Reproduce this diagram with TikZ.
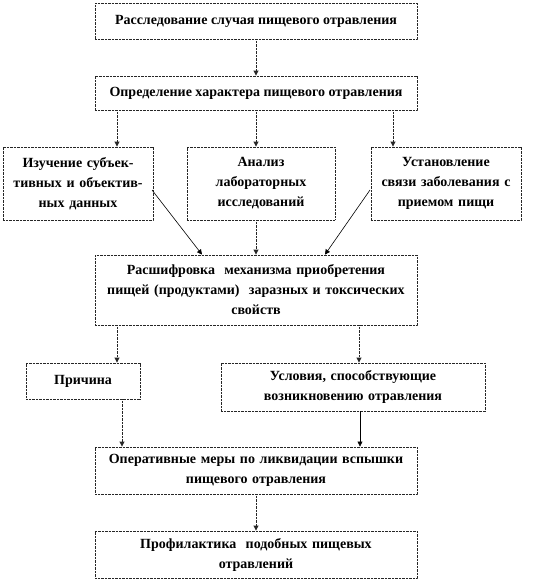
\documentclass[tikz,border=0pt]{standalone}
\usepackage{fontspec}
\setmainfont{Liberation Serif}
\usetikzlibrary{arrows.meta,calc}
\begin{document}
\begin{tikzpicture}[x=1pt,y=-1pt,
  box/.style={draw=black!85, line width=0.9pt, dash pattern=on 1pt off 0.4pt, fill=white,
    font=\fontsize{14}{20}\selectfont\bfseries, align=center, inner sep=2pt},
  dline/.style={draw=black!85, line width=0.9pt, dash pattern=on 1pt off 0.4pt, -{Triangle[length=5pt,width=5pt]}},
  sline/.style={draw=black, line width=0.6pt, -{Triangle[length=5pt,width=5pt]}}]
\useasboundingbox (0,0) rectangle (546,582);
\node[box, minimum width=322pt, minimum height=36pt] (b1) at (256,21) {Расследование случая пищевого отравления};
\node[box, minimum width=322pt, minimum height=34pt] (b2) at (256,93) {Определение характера пищевого отравления};
\node[box, minimum width=150pt, minimum height=73pt, text width=146pt] (ba) at (78,183.5) {Изучение субъек-\\тивных и объектив-\\ных данных};
\node[box, minimum width=148pt, minimum height=73pt, text width=144pt] (bb) at (261,183.5) {Анализ\\лабораторных\\исследований};
\node[box, minimum width=150pt, minimum height=73pt, text width=146pt] (bc) at (446,183.5) {Установление\\связи заболевания с\\приемом пищи};
\node[box, minimum width=322pt, minimum height=70pt, text width=316pt] (bd) at (256,290) {Расшифровка\ \ механизма приобретения\\пищей (продуктами)\ \ заразных и токсических\\свойств};
\node[box, minimum width=114pt, minimum height=36pt] (bp) at (83,381) {Причина};
\node[box, minimum width=264pt, minimum height=48pt, text width=258pt] (bu) at (353,387) {Условия, способствующие\\возникновению отравления};
\node[box, minimum width=322pt, minimum height=47pt, text width=316pt] (bo) at (256,470.5) {Оперативные меры по ликвидации вспышки\\пищевого отравления};
\node[box, minimum width=322pt, minimum height=47pt, text width=316pt] (bf) at (256,554.5) {Профилактика\ \ подобных пищевых\\отравлений};
\coordinate (xa) at (117,0);
\coordinate (xc) at (393,0);
\coordinate (sa) at (152,190);
\coordinate (sc) at (370,190);
\coordinate (ea) at (202,0);
\coordinate (ec) at (325,0);
\coordinate (xp) at (117,0);
\coordinate (xu) at (359,0);
\coordinate (xp2) at (122,0);
\coordinate (xu2) at (360,0);
\draw[dline] (b1.south) -- (b2.north);
\draw[dline] (b2.south -| xa) -- (ba.north -| xa);
\draw[dline] (b2.south) -- (b2.south |- bb.north);
\draw[dline] (b2.south -| xc) -- (bc.north -| xc);
\draw[sline] (sa) -- (bd.north -| ea);
\draw[dline] (bd.north |- bb.south) -- (bd.north);
\draw[sline] (sc) -- (bd.north -| ec);
\draw[dline] (bd.south -| xp) -- (bp.north -| xp);
\draw[dline] (bd.south -| xu) -- (bu.north -| xu);
\draw[dline] (bp.south -| xp2) -- (bo.north -| xp2);
\draw[sline] (bu.south -| xu2) -- (bo.north -| xu2);
\draw[dline] (bo.south) -- (bf.north);
\end{tikzpicture}
\end{document}
